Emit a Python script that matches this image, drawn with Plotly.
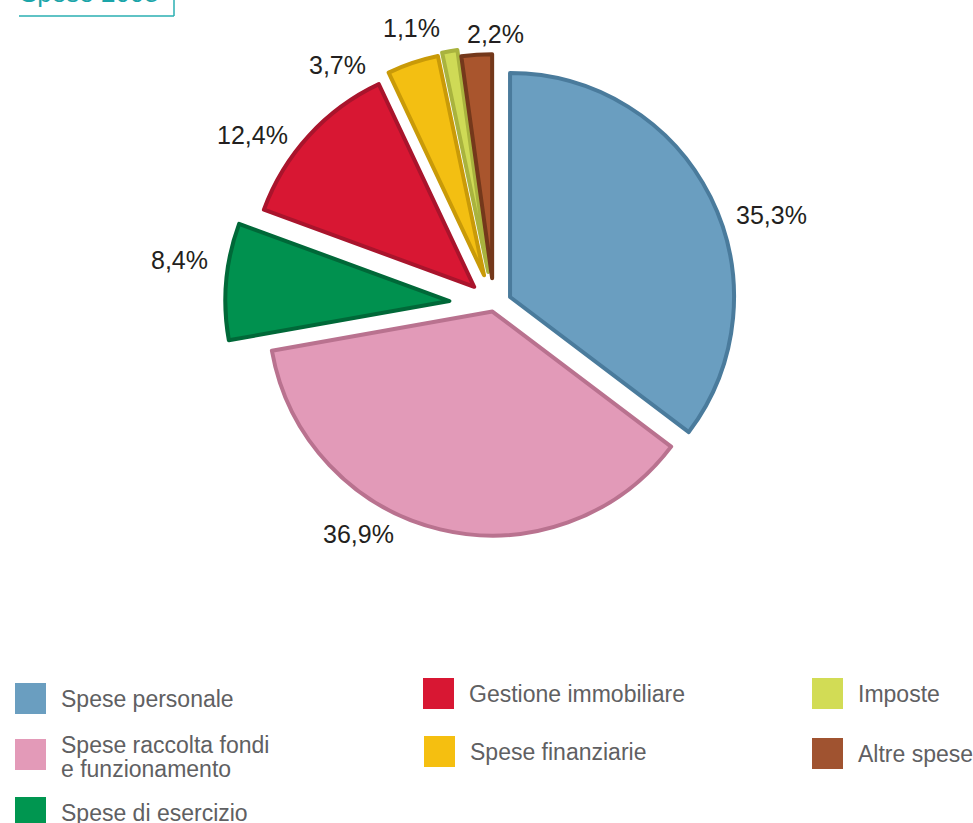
import math
import plotly.graph_objects as go

# ---------------- data ----------------
categories = [
    "Spese personale",
    "Spese raccolta fondi<br>e funzionamento",
    "Spese di esercizio",
    "Gestione immobiliare",
    "Spese finanziarie",
    "Imposte",
    "Altre spese",
]
values = [35.3, 36.9, 8.4, 12.4, 3.7, 1.1, 2.2]
title_text = "Spese 2008"

# ---------------- styles ----------------
fill_colors = ["#6A9EC0", "#E29AB8", "#00914F", "#D81733", "#F3BF12", "#CFDA56", "#A9552D"]
edge_colors = ["#4A7B9C", "#B9728F", "#006838", "#A9142C", "#C99A08", "#A9B33E", "#74381B"]
legend_colors = ["#6A9EC0", "#E39AB8", "#009650", "#D81733", "#F5BF10", "#D2DC55", "#A05330"]
pulls = [0.08, 0.03, 0.20, 0.12, 0.14, 0.15, 0.12]
label_nudge_deg = [8.5, 17.1, 3.1, -7.3, -14.5, -6.7, 4.2]
label_dist = [1.30, 1.19, 1.42, 1.32, 1.28, 1.29, 1.21]

W, H = 973, 823
CX, CY, R = 494, 305, 224  # pie centre / radius in pixels

# legend layout: (column x, square top y) in pixels
legend_pos = [(15, 683), (15, 739), (15, 797), (423, 678), (424, 736), (812, 678), (812, 738)]
SQ = 31
FONT = "Liberation Sans, Arial, Helvetica, sans-serif"


def px(x):
    return x / W


def py(y):
    return 1 - y / H


half = R * (1 + max(pulls))
domain_x = [px(CX - half), px(CX + half)]
domain_y = [py(CY + half), py(CY - half)]

fig = go.Figure(
    go.Pie(
        labels=[c.replace("<br>", " ") for c in categories],
        values=values,
        sort=False,
        direction="clockwise",
        rotation=0,
        pull=pulls,
        marker=dict(colors=fill_colors, line=dict(color=edge_colors, width=4)),
        textinfo="none",
        hovertemplate="%{label}: %{value:.1f}%<extra></extra>",
        domain=dict(x=domain_x, y=domain_y),
        showlegend=False,
    )
)

annotations = []
shapes = []

# percentage labels positioned from the slice mid-angles
total = sum(values)
cum = 0.0
for i, v in enumerate(values):
    mid = (cum + v / 2) / total * 360 + label_nudge_deg[i]
    cum += v
    a = math.radians(mid)
    d = R * label_dist[i]
    lx = CX + d * math.sin(a)
    ly = CY - d * math.cos(a)
    annotations.append(dict(
        x=px(lx), y=py(ly), xref="paper", yref="paper",
        text=("%.1f" % v).replace(".", ",") + "%",
        showarrow=False, xanchor="center", yanchor="middle",
        font=dict(family=FONT, size=25, color="#231F20"),
    ))

# legend (squares + text)
for i, cat in enumerate(categories):
    x0, y0 = legend_pos[i]
    shapes.append(dict(
        type="rect", xref="paper", yref="paper",
        x0=px(x0), x1=px(x0 + SQ), y0=py(y0 + SQ), y1=py(y0),
        fillcolor=legend_colors[i], line=dict(width=0),
    ))
    lines = cat.split("<br>")
    n = len(lines)
    yc = y0 + SQ / 2 + (2 if n > 1 else 0)
    for k, line in enumerate(lines):
        ty = yc + (k - (n - 1) / 2) * 24
        annotations.append(dict(
            x=px(x0 + 44), y=py(ty), xref="paper", yref="paper",
            text=line, showarrow=False, xanchor="left", yanchor="middle",
            font=dict(family=FONT, size=23, color="#606062"),
        ))

# title box (cut off at the top of the page)
shapes.append(dict(type="line", xref="paper", yref="paper",
                   x0=px(19), x1=px(174), y0=py(16), y1=py(16),
                   line=dict(color="#2AAFB2", width=1.5)))
shapes.append(dict(type="line", xref="paper", yref="paper",
                   x0=px(174), x1=px(174), y0=py(16), y1=py(-5),
                   line=dict(color="#2AAFB2", width=1.5)))
annotations.append(dict(
    x=px(18), y=py(10), xref="paper", yref="paper",
    text=title_text, showarrow=False, xanchor="left", yanchor="bottom",
    font=dict(family=FONT, size=26, color="#1BA5A9"),
))

fig.update_layout(
    width=W, height=H,
    margin=dict(l=0, r=0, t=0, b=0),
    paper_bgcolor="white", plot_bgcolor="white",
    annotations=annotations, shapes=shapes,
    showlegend=False,
)

fig.write_html(
    "out.html",
    config={"displayModeBar": False},
    post_script="document.body.style.margin='0';document.body.style.overflow='hidden';",
)
